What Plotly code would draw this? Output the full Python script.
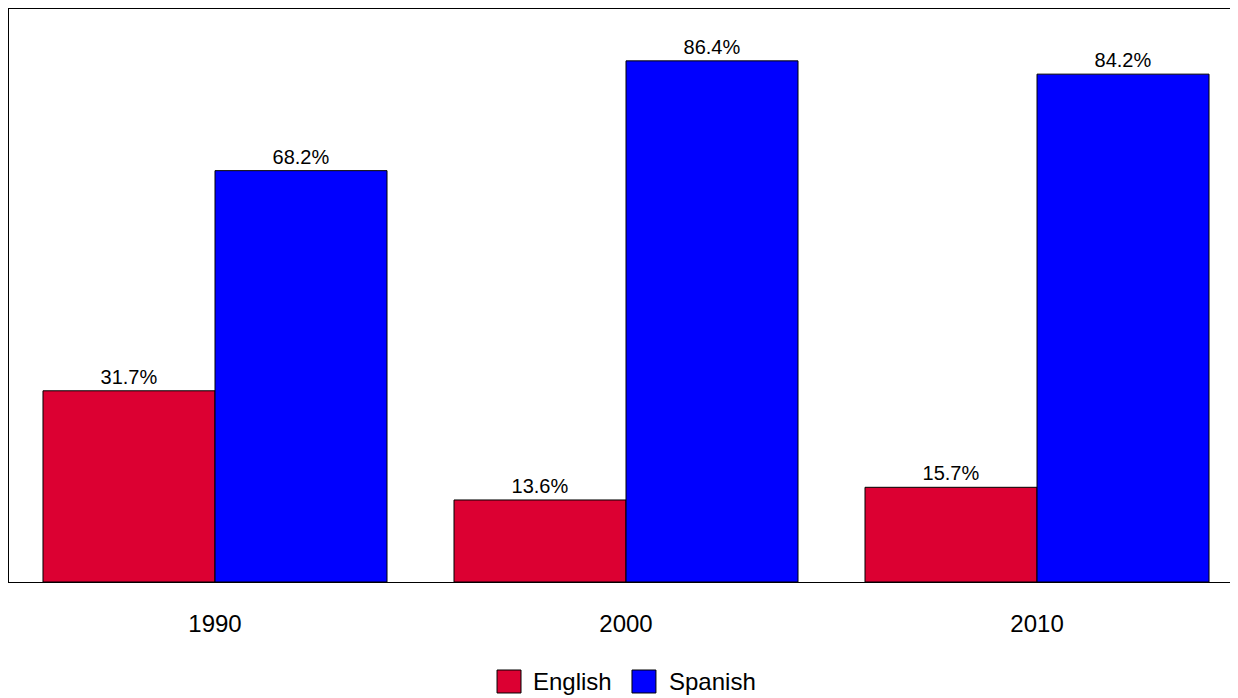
import plotly.graph_objects as go

years = ["1990", "2000", "2010"]
english = [31.7, 13.6, 15.7]
spanish = [68.2, 86.4, 84.2]
series_names = ["English", "Spanish"]
colors = ["#DC0032", "#0000FF"]
FONT = "Liberation Sans, Arial"

fig = go.Figure()
for name, vals, col in zip(series_names, [english, spanish], colors):
    fig.add_trace(go.Bar(
        x=years, y=vals, name=name, showlegend=False,
        marker=dict(color=col, line=dict(color="black", width=1)),
        text=[f"{v:.1f}%" for v in vals], textposition="outside",
        textfont=dict(size=20, color="black", family=FONT),
        cliponaxis=False,
    ))

# legend drawn as shapes + text (paper coordinates)
legend_items = [
    (series_names[0], colors[0], 0.3971, 0.4166, 0.4250),
    (series_names[1], colors[1], 0.5069, 0.5264, 0.5350),
]
for name, col, x0, x1, tx in legend_items:
    fig.add_shape(type="rect", xref="paper", yref="paper", x0=x0, x1=x1,
                  y0=-0.1937, y1=-0.1536, fillcolor=col,
                  line=dict(color="black", width=1))
    fig.add_annotation(xref="paper", yref="paper", x=tx, y=-0.1736, text=name,
                       showarrow=False, xanchor="left", yanchor="middle",
                       font=dict(size=24, color="black", family=FONT))

fig.update_layout(
    width=1230, height=690,
    margin=dict(l=1, r=0, t=1, b=116),
    barmode="group", bargap=0.163, bargroupgap=0,
    plot_bgcolor="white", paper_bgcolor="white",
    font=dict(family=FONT, size=24, color="black"),
    showlegend=False,
    xaxis=dict(type="category", range=[-0.5012, 2.489], showline=True, linecolor="black",
               linewidth=1, mirror=True, ticks="outside", ticklen=20, tickcolor="rgba(0,0,0,0)",
               tickfont=dict(size=24), showgrid=False, zeroline=False),
    yaxis=dict(range=[0, 95], showline=True, linecolor="black", linewidth=1,
               showticklabels=False, ticks="", showgrid=False, zeroline=False),
)

fig.write_html("out.html")
